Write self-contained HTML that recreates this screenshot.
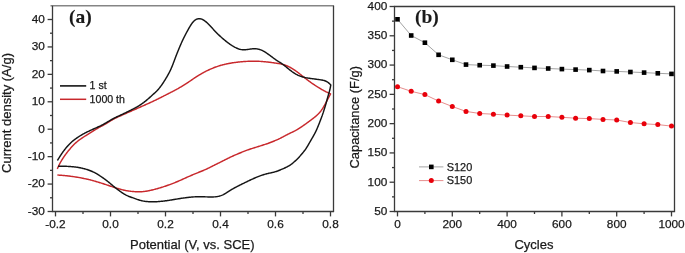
<!DOCTYPE html>
<html><head><meta charset="utf-8"><title>CV and cycling</title>
<style>html,body{margin:0;padding:0;background:#fff;}body{width:685px;height:253px;overflow:hidden;}svg{display:block;will-change:transform;filter:blur(0.3px);}text{font-family:"Liberation Sans",sans-serif;fill:#1a1a1a;stroke:#1a1a1a;stroke-width:0.25px;}</style>
</head><body>
<svg width="685" height="253" viewBox="0 0 685 253">
<rect width="685" height="253" fill="#fff"/>
<g fill="none" stroke="#3a3a3a" stroke-width="1.3">
<path d="M50.5,5.8 H334.1" stroke="#858585" stroke-width="1.6"/>
<path d="M333.5,5.8 V211.5"/>
<path d="M52.5,5.8 V211.5 H334.1"/>
<path d="M47.6,211.50 H52.5"/>
<path d="M50.0,197.78 H52.5"/>
<path d="M47.6,184.07 H52.5"/>
<path d="M50.0,170.35 H52.5"/>
<path d="M47.6,156.64 H52.5"/>
<path d="M50.0,142.93 H52.5"/>
<path d="M47.6,129.21 H52.5"/>
<path d="M50.0,115.50 H52.5"/>
<path d="M47.6,101.78 H52.5"/>
<path d="M50.0,88.07 H52.5"/>
<path d="M47.6,74.36 H52.5"/>
<path d="M50.0,60.64 H52.5"/>
<path d="M47.6,46.93 H52.5"/>
<path d="M50.0,33.21 H52.5"/>
<path d="M47.6,19.50 H52.5"/>
<path d="M55.50,211.5 V216.4"/>
<path d="M83.00,211.5 V214.0"/>
<path d="M110.50,211.5 V216.4"/>
<path d="M138.00,211.5 V214.0"/>
<path d="M165.50,211.5 V216.4"/>
<path d="M193.00,211.5 V214.0"/>
<path d="M220.50,211.5 V216.4"/>
<path d="M248.00,211.5 V214.0"/>
<path d="M275.50,211.5 V216.4"/>
<path d="M303.00,211.5 V214.0"/>
<path d="M330.50,211.5 V216.4"/>
</g>
<g font-size="11.8" text-anchor="end">
<text x="44.9" y="214.80">-30</text>
<text x="44.9" y="187.37">-20</text>
<text x="44.9" y="159.94">-10</text>
<text x="44.9" y="132.51">0</text>
<text x="44.9" y="105.08">10</text>
<text x="44.9" y="77.66">20</text>
<text x="44.9" y="50.23">30</text>
<text x="44.9" y="22.80">40</text>
</g>
<g font-size="11.8" text-anchor="middle">
<text x="55.50" y="228.3">-0.2</text>
<text x="110.50" y="228.3">0.0</text>
<text x="165.50" y="228.3">0.2</text>
<text x="220.50" y="228.3">0.4</text>
<text x="275.50" y="228.3">0.6</text>
<text x="330.50" y="228.3">0.8</text>
</g>
<text x="192.3" y="249" font-size="13" text-anchor="middle">Potential (V, vs. SCE)</text>
<text transform="translate(11.3,113) rotate(-90)" font-size="13" text-anchor="middle">Current density (A/g)</text>
<text x="68.9" y="22.5" font-size="19.5" font-weight="bold" style="font-family:'Liberation Serif',serif;stroke-width:0.1px" fill="#111">(a)</text>
<path d="M57.30,168.90 L57.58,168.26 L57.87,167.62 L58.15,166.98 L58.44,166.35 L58.74,165.71 L59.04,165.08 L59.35,164.46 L59.67,163.84 L60.00,163.22 L60.33,162.61 L60.67,162.00 L61.02,161.39 L61.38,160.79 L61.74,160.19 L62.10,159.59 L62.47,159.00 L62.85,158.41 L63.23,157.82 L63.61,157.24 L64.01,156.66 L64.40,156.09 L64.81,155.52 L65.21,154.95 L65.63,154.38 L66.05,153.82 L66.47,153.27 L66.89,152.71 L67.32,152.16 L67.76,151.61 L68.19,151.06 L68.63,150.52 L69.08,149.98 L69.53,149.44 L69.98,148.91 L70.44,148.38 L70.90,147.85 L71.36,147.33 L71.82,146.81 L72.29,146.29 L72.77,145.77 L73.25,145.26 L73.73,144.76 L74.22,144.27 L74.72,143.78 L75.23,143.30 L75.74,142.84 L76.27,142.38 L76.80,141.93 L77.34,141.49 L77.89,141.05 L78.44,140.62 L79.00,140.20 L79.56,139.78 L80.12,139.37 L80.69,138.97 L81.26,138.56 L81.84,138.17 L82.42,137.78 L83.01,137.40 L83.59,137.01 L84.18,136.64 L84.77,136.26 L85.37,135.89 L85.96,135.52 L86.55,135.15 L87.15,134.78 L87.74,134.41 L88.33,134.04 L88.93,133.67 L89.52,133.30 L90.12,132.93 L90.71,132.56 L91.30,132.19 L91.90,131.81 L92.49,131.44 L93.09,131.07 L93.68,130.70 L94.28,130.34 L94.87,129.97 L95.47,129.60 L96.06,129.23 L96.66,128.87 L97.26,128.51 L97.86,128.16 L98.47,127.81 L99.08,127.46 L99.69,127.12 L100.30,126.79 L100.91,126.46 L101.53,126.14 L102.15,125.81 L102.77,125.49 L103.38,125.16 L103.99,124.83 L104.60,124.49 L105.21,124.14 L105.81,123.79 L106.41,123.43 L107.01,123.06 L107.60,122.70 L108.20,122.33 L108.79,121.96 L109.39,121.59 L109.98,121.22 L110.58,120.86 L111.18,120.49 L111.78,120.14 L112.38,119.78 L112.99,119.44 L113.60,119.10 L114.22,118.77 L114.84,118.45 L115.46,118.14 L116.09,117.83 L116.72,117.53 L117.35,117.24 L117.99,116.94 L118.62,116.65 L119.26,116.37 L119.90,116.08 L120.54,115.79 L121.18,115.51 L121.82,115.22 L122.46,114.94 L123.10,114.65 L123.74,114.37 L124.38,114.08 L125.02,113.80 L125.66,113.52 L126.30,113.23 L126.94,112.95 L127.58,112.67 L128.22,112.38 L128.86,112.10 L129.50,111.82 L130.14,111.54 L130.78,111.26 L131.42,110.98 L132.07,110.70 L132.71,110.42 L133.35,110.14 L133.99,109.86 L134.63,109.58 L135.27,109.29 L135.91,109.01 L136.55,108.73 L137.19,108.44 L137.83,108.16 L138.47,107.88 L139.11,107.59 L139.75,107.31 L140.39,107.02 L141.03,106.74 L141.67,106.45 L142.31,106.17 L142.95,105.88 L143.58,105.59 L144.22,105.31 L144.86,105.02 L145.50,104.74 L146.14,104.45 L146.78,104.16 L147.42,103.87 L148.05,103.58 L148.69,103.30 L149.33,103.01 L149.97,102.72 L150.60,102.43 L151.24,102.14 L151.88,101.85 L152.51,101.55 L153.15,101.26 L153.78,100.96 L154.41,100.66 L155.05,100.36 L155.68,100.06 L156.31,99.75 L156.93,99.44 L157.56,99.13 L158.19,98.82 L158.81,98.50 L159.44,98.19 L160.06,97.87 L160.69,97.56 L161.31,97.24 L161.94,96.92 L162.56,96.61 L163.18,96.29 L163.81,95.97 L164.43,95.66 L165.06,95.34 L165.68,95.03 L166.31,94.71 L166.93,94.39 L167.55,94.07 L168.18,93.76 L168.80,93.44 L169.43,93.12 L170.05,92.80 L170.67,92.48 L171.29,92.16 L171.92,91.84 L172.54,91.52 L173.16,91.19 L173.78,90.87 L174.40,90.55 L175.02,90.22 L175.64,89.89 L176.25,89.56 L176.87,89.22 L177.48,88.89 L178.09,88.54 L178.70,88.20 L179.30,87.85 L179.91,87.49 L180.51,87.14 L181.11,86.78 L181.71,86.42 L182.31,86.06 L182.91,85.69 L183.50,85.33 L184.10,84.96 L184.69,84.59 L185.29,84.22 L185.88,83.84 L186.46,83.46 L187.05,83.08 L187.63,82.70 L188.22,82.31 L188.80,81.92 L189.37,81.52 L189.95,81.13 L190.53,80.73 L191.10,80.33 L191.68,79.93 L192.26,79.54 L192.83,79.14 L193.41,78.75 L193.99,78.36 L194.57,77.97 L195.16,77.58 L195.74,77.20 L196.33,76.82 L196.92,76.45 L197.52,76.08 L198.11,75.71 L198.71,75.34 L199.31,74.98 L199.91,74.62 L200.51,74.26 L201.11,73.90 L201.71,73.55 L202.32,73.20 L202.93,72.85 L203.54,72.51 L204.15,72.18 L204.77,71.85 L205.39,71.53 L206.02,71.22 L206.64,70.91 L207.27,70.61 L207.90,70.31 L208.54,70.01 L209.17,69.72 L209.81,69.43 L210.45,69.14 L211.09,68.86 L211.73,68.58 L212.38,68.31 L213.02,68.05 L213.67,67.79 L214.33,67.54 L214.98,67.29 L215.64,67.05 L216.30,66.82 L216.96,66.59 L217.62,66.36 L218.28,66.14 L218.95,65.92 L219.61,65.71 L220.28,65.51 L220.95,65.31 L221.62,65.11 L222.30,64.93 L222.97,64.75 L223.65,64.58 L224.33,64.42 L225.01,64.27 L225.69,64.12 L226.38,63.97 L227.06,63.83 L227.75,63.69 L228.44,63.56 L229.12,63.43 L229.81,63.30 L230.50,63.18 L231.19,63.06 L231.88,62.95 L232.57,62.84 L233.26,62.74 L233.96,62.63 L234.65,62.53 L235.34,62.44 L236.04,62.35 L236.73,62.26 L237.42,62.17 L238.12,62.09 L238.81,62.01 L239.51,61.93 L240.21,61.86 L240.90,61.79 L241.60,61.73 L242.30,61.67 L242.99,61.62 L243.69,61.57 L244.39,61.52 L245.09,61.48 L245.79,61.44 L246.49,61.40 L247.19,61.37 L247.89,61.34 L248.58,61.31 L249.28,61.28 L249.98,61.26 L250.68,61.23 L251.38,61.22 L252.08,61.20 L252.78,61.19 L253.48,61.19 L254.18,61.19 L254.88,61.20 L255.58,61.21 L256.28,61.22 L256.98,61.24 L257.68,61.27 L258.38,61.30 L259.08,61.33 L259.77,61.36 L260.47,61.40 L261.17,61.45 L261.87,61.49 L262.57,61.55 L263.26,61.60 L263.96,61.66 L264.66,61.73 L265.36,61.79 L266.05,61.86 L266.75,61.94 L267.44,62.01 L268.14,62.09 L268.83,62.17 L269.53,62.26 L270.22,62.34 L270.92,62.43 L271.61,62.52 L272.30,62.62 L273.00,62.71 L273.69,62.81 L274.38,62.91 L275.08,63.01 L275.77,63.11 L276.46,63.21 L277.15,63.31 L277.85,63.42 L278.53,63.53 L279.22,63.65 L279.91,63.78 L280.59,63.91 L281.27,64.06 L281.95,64.22 L282.62,64.40 L283.29,64.59 L283.96,64.79 L284.62,65.00 L285.28,65.23 L285.93,65.47 L286.58,65.72 L287.23,65.99 L287.87,66.26 L288.50,66.55 L289.13,66.85 L289.75,67.17 L290.36,67.50 L290.97,67.84 L291.57,68.19 L292.17,68.55 L292.76,68.91 L293.35,69.29 L293.94,69.67 L294.52,70.06 L295.10,70.45 L295.68,70.84 L296.25,71.25 L296.81,71.66 L297.38,72.07 L297.93,72.49 L298.49,72.92 L299.04,73.35 L299.59,73.78 L300.14,74.21 L300.69,74.65 L301.24,75.08 L301.79,75.52 L302.34,75.95 L302.88,76.39 L303.43,76.82 L303.98,77.25 L304.53,77.69 L305.09,78.12 L305.64,78.55 L306.19,78.98 L306.74,79.41 L307.30,79.83 L307.86,80.26 L308.41,80.68 L308.97,81.10 L309.53,81.52 L310.10,81.93 L310.67,82.34 L311.24,82.74 L311.81,83.15 L312.39,83.54 L312.96,83.94 L313.54,84.33 L314.13,84.72 L314.71,85.10 L315.29,85.49 L315.88,85.87 L316.47,86.25 L317.06,86.63 L317.65,87.00 L318.24,87.37 L318.84,87.74 L319.44,88.10 L320.04,88.46 L320.64,88.82 L321.24,89.17 L321.85,89.53 L322.45,89.87 L323.06,90.21 L323.68,90.55 L324.29,90.88 L324.91,91.21 L325.53,91.52 L326.16,91.84 L326.79,92.14 L327.42,92.44 L328.05,92.74 L328.69,93.03 L329.33,93.32 L329.96,93.61 L330.60,93.90 L330.26,94.51 L329.93,95.13 L329.59,95.74 L329.26,96.36 L328.92,96.97 L328.59,97.59 L328.27,98.21 L327.94,98.83 L327.62,99.45 L327.29,100.07 L326.97,100.69 L326.65,101.31 L326.32,101.93 L326.00,102.55 L325.67,103.17 L325.34,103.79 L325.01,104.40 L324.67,105.02 L324.33,105.63 L323.99,106.23 L323.64,106.84 L323.28,107.44 L322.91,108.03 L322.53,108.62 L322.15,109.20 L321.75,109.77 L321.35,110.34 L320.93,110.90 L320.51,111.45 L320.07,111.99 L319.62,112.52 L319.16,113.04 L318.68,113.55 L318.20,114.05 L317.70,114.53 L317.19,115.01 L316.67,115.48 L316.15,115.94 L315.62,116.39 L315.08,116.84 L314.54,117.28 L313.99,117.72 L313.44,118.15 L312.89,118.58 L312.34,119.01 L311.78,119.43 L311.22,119.86 L310.66,120.28 L310.10,120.70 L309.54,121.12 L308.98,121.53 L308.42,121.95 L307.85,122.36 L307.28,122.77 L306.72,123.18 L306.15,123.59 L305.58,123.99 L305.01,124.40 L304.44,124.80 L303.86,125.21 L303.29,125.61 L302.71,126.00 L302.14,126.40 L301.56,126.79 L300.98,127.18 L300.39,127.57 L299.80,127.95 L299.21,128.32 L298.62,128.69 L298.02,129.05 L297.42,129.41 L296.82,129.76 L296.21,130.11 L295.60,130.44 L294.98,130.77 L294.36,131.10 L293.74,131.41 L293.11,131.73 L292.48,132.04 L291.86,132.34 L291.22,132.64 L290.59,132.95 L289.96,133.25 L289.33,133.55 L288.71,133.86 L288.08,134.17 L287.45,134.49 L286.83,134.81 L286.21,135.13 L285.59,135.46 L284.98,135.78 L284.36,136.12 L283.74,136.45 L283.13,136.78 L282.51,137.11 L281.89,137.44 L281.27,137.76 L280.65,138.08 L280.03,138.40 L279.40,138.70 L278.77,139.01 L278.13,139.30 L277.50,139.59 L276.86,139.87 L276.22,140.15 L275.57,140.43 L274.93,140.70 L274.28,140.97 L273.64,141.24 L272.99,141.50 L272.34,141.76 L271.69,142.02 L271.04,142.28 L270.39,142.53 L269.73,142.78 L269.08,143.02 L268.42,143.25 L267.76,143.49 L267.10,143.71 L266.43,143.94 L265.77,144.16 L265.11,144.38 L264.44,144.60 L263.77,144.81 L263.11,145.03 L262.44,145.24 L261.78,145.46 L261.11,145.67 L260.44,145.88 L259.77,146.09 L259.11,146.30 L258.44,146.51 L257.77,146.72 L257.10,146.92 L256.43,147.13 L255.76,147.33 L255.09,147.54 L254.42,147.74 L253.75,147.95 L253.09,148.16 L252.42,148.37 L251.75,148.58 L251.09,148.80 L250.42,149.02 L249.76,149.24 L249.10,149.47 L248.44,149.70 L247.78,149.94 L247.13,150.18 L246.47,150.43 L245.82,150.68 L245.16,150.93 L244.51,151.18 L243.86,151.43 L243.20,151.69 L242.55,151.94 L241.90,152.20 L241.25,152.46 L240.60,152.72 L239.96,152.99 L239.31,153.25 L238.66,153.52 L238.02,153.79 L237.37,154.07 L236.73,154.34 L236.09,154.62 L235.44,154.90 L234.80,155.18 L234.16,155.46 L233.52,155.74 L232.88,156.02 L232.24,156.31 L231.60,156.60 L230.97,156.89 L230.34,157.19 L229.70,157.49 L229.07,157.79 L228.45,158.10 L227.82,158.42 L227.20,158.73 L226.57,159.05 L225.95,159.37 L225.33,159.69 L224.70,160.01 L224.08,160.32 L223.46,160.64 L222.83,160.96 L222.21,161.27 L221.58,161.59 L220.96,161.90 L220.33,162.21 L219.70,162.53 L219.08,162.84 L218.45,163.15 L217.82,163.46 L217.19,163.77 L216.57,164.08 L215.94,164.39 L215.31,164.71 L214.69,165.02 L214.06,165.33 L213.44,165.64 L212.81,165.96 L212.19,166.27 L211.56,166.59 L210.93,166.90 L210.31,167.22 L209.68,167.53 L209.06,167.84 L208.43,168.15 L207.80,168.45 L207.17,168.75 L206.53,169.05 L205.90,169.34 L205.26,169.63 L204.62,169.91 L203.98,170.19 L203.33,170.46 L202.69,170.72 L202.04,170.99 L201.39,171.25 L200.74,171.51 L200.09,171.77 L199.44,172.03 L198.79,172.29 L198.14,172.55 L197.49,172.81 L196.84,173.08 L196.20,173.34 L195.55,173.61 L194.90,173.88 L194.26,174.15 L193.61,174.42 L192.97,174.70 L192.32,174.97 L191.68,175.25 L191.04,175.52 L190.39,175.80 L189.75,176.08 L189.11,176.36 L188.47,176.64 L187.83,176.92 L187.19,177.21 L186.55,177.50 L185.91,177.78 L185.28,178.07 L184.64,178.36 L184.00,178.65 L183.36,178.94 L182.73,179.23 L182.09,179.52 L181.45,179.80 L180.81,180.09 L180.17,180.37 L179.53,180.65 L178.89,180.93 L178.24,181.21 L177.60,181.48 L176.96,181.76 L176.31,182.03 L175.66,182.29 L175.02,182.56 L174.37,182.82 L173.72,183.08 L173.06,183.33 L172.41,183.58 L171.76,183.83 L171.10,184.08 L170.45,184.33 L169.79,184.57 L169.14,184.81 L168.48,185.05 L167.82,185.29 L167.16,185.52 L166.50,185.75 L165.84,185.98 L165.17,186.21 L164.51,186.43 L163.85,186.65 L163.18,186.87 L162.52,187.09 L161.85,187.30 L161.18,187.51 L160.51,187.72 L159.84,187.92 L159.17,188.12 L158.50,188.31 L157.83,188.50 L157.15,188.69 L156.48,188.88 L155.80,189.06 L155.13,189.24 L154.45,189.42 L153.77,189.59 L153.09,189.76 L152.41,189.92 L151.73,190.08 L151.05,190.24 L150.37,190.39 L149.68,190.54 L149.00,190.68 L148.31,190.82 L147.63,190.94 L146.94,191.06 L146.25,191.18 L145.56,191.28 L144.86,191.37 L144.17,191.46 L143.48,191.54 L142.78,191.61 L142.09,191.66 L141.39,191.71 L140.69,191.75 L139.99,191.77 L139.30,191.79 L138.60,191.79 L137.90,191.79 L137.20,191.78 L136.50,191.75 L135.81,191.72 L135.11,191.68 L134.41,191.63 L133.71,191.58 L133.02,191.52 L132.32,191.45 L131.63,191.37 L130.93,191.30 L130.24,191.21 L129.54,191.12 L128.85,191.03 L128.16,190.93 L127.47,190.83 L126.78,190.71 L126.09,190.59 L125.40,190.46 L124.72,190.32 L124.04,190.17 L123.36,190.01 L122.68,189.85 L122.00,189.67 L121.32,189.50 L120.65,189.31 L119.98,189.12 L119.31,188.93 L118.63,188.73 L117.96,188.53 L117.30,188.32 L116.63,188.11 L115.96,187.90 L115.29,187.69 L114.62,187.48 L113.96,187.27 L113.29,187.05 L112.63,186.84 L111.96,186.62 L111.29,186.41 L110.63,186.19 L109.96,185.97 L109.30,185.75 L108.63,185.53 L107.97,185.31 L107.31,185.09 L106.64,184.87 L105.98,184.64 L105.31,184.42 L104.65,184.20 L103.99,183.98 L103.32,183.76 L102.66,183.55 L101.99,183.33 L101.32,183.12 L100.65,182.91 L99.99,182.70 L99.32,182.49 L98.65,182.29 L97.98,182.09 L97.31,181.89 L96.63,181.69 L95.96,181.50 L95.29,181.30 L94.62,181.11 L93.95,180.91 L93.27,180.72 L92.60,180.54 L91.92,180.35 L91.25,180.17 L90.57,179.99 L89.89,179.82 L89.21,179.65 L88.53,179.49 L87.85,179.33 L87.17,179.18 L86.49,179.03 L85.80,178.88 L85.12,178.74 L84.43,178.59 L83.75,178.45 L83.06,178.31 L82.38,178.17 L81.69,178.03 L81.00,177.90 L80.31,177.77 L79.63,177.64 L78.94,177.52 L78.25,177.40 L77.56,177.28 L76.87,177.17 L76.18,177.06 L75.49,176.95 L74.79,176.85 L74.10,176.74 L73.41,176.64 L72.72,176.54 L72.02,176.44 L71.33,176.35 L70.64,176.25 L69.94,176.16 L69.25,176.07 L68.55,175.99 L67.86,175.91 L67.16,175.83 L66.47,175.76 L65.77,175.69 L65.07,175.62 L64.38,175.56 L63.68,175.50 L62.98,175.44 L62.28,175.39 L61.59,175.33 L60.89,175.27 L60.19,175.22 L59.49,175.16 L58.80,175.11 L58.10,175.05 L57.40,175.00" fill="none" stroke="#c8282c" stroke-width="1.45" stroke-linejoin="round"/>
<path d="M57.40,160.50 L57.77,159.90 L58.13,159.31 L58.50,158.71 L58.87,158.11 L59.24,157.52 L59.61,156.92 L59.99,156.33 L60.37,155.74 L60.75,155.15 L61.13,154.57 L61.52,153.99 L61.92,153.41 L62.32,152.83 L62.72,152.26 L63.13,151.69 L63.54,151.13 L63.96,150.57 L64.38,150.01 L64.81,149.45 L65.24,148.90 L65.67,148.35 L66.11,147.80 L66.56,147.27 L67.01,146.73 L67.47,146.20 L67.94,145.68 L68.41,145.17 L68.89,144.66 L69.37,144.16 L69.87,143.66 L70.37,143.17 L70.88,142.69 L71.39,142.22 L71.91,141.76 L72.44,141.30 L72.98,140.86 L73.53,140.42 L74.08,139.99 L74.63,139.56 L75.20,139.15 L75.76,138.73 L76.33,138.33 L76.90,137.92 L77.48,137.53 L78.06,137.14 L78.65,136.75 L79.24,136.38 L79.83,136.00 L80.43,135.64 L81.03,135.28 L81.63,134.92 L82.23,134.57 L82.84,134.22 L83.45,133.88 L84.07,133.55 L84.69,133.22 L85.31,132.89 L85.93,132.57 L86.56,132.26 L87.18,131.95 L87.81,131.64 L88.45,131.34 L89.08,131.04 L89.71,130.74 L90.35,130.44 L90.98,130.15 L91.62,129.86 L92.26,129.57 L92.90,129.28 L93.54,128.99 L94.18,128.70 L94.82,128.42 L95.46,128.13 L96.10,127.85 L96.74,127.56 L97.38,127.28 L98.02,126.99 L98.65,126.70 L99.29,126.41 L99.92,126.11 L100.56,125.81 L101.18,125.50 L101.81,125.18 L102.43,124.86 L103.04,124.53 L103.66,124.19 L104.27,123.85 L104.88,123.50 L105.48,123.15 L106.09,122.79 L106.69,122.44 L107.29,122.08 L107.90,121.72 L108.50,121.37 L109.10,121.01 L109.70,120.65 L110.31,120.30 L110.92,119.95 L111.52,119.60 L112.13,119.25 L112.75,118.92 L113.36,118.58 L113.98,118.26 L114.60,117.94 L115.23,117.63 L115.86,117.32 L116.49,117.02 L117.12,116.72 L117.76,116.42 L118.40,116.13 L119.03,115.84 L119.67,115.54 L120.31,115.25 L120.94,114.95 L121.58,114.66 L122.21,114.36 L122.85,114.06 L123.48,113.76 L124.11,113.46 L124.74,113.15 L125.37,112.85 L126.00,112.54 L126.63,112.23 L127.26,111.93 L127.89,111.62 L128.52,111.31 L129.15,110.99 L129.77,110.68 L130.40,110.37 L131.03,110.05 L131.65,109.73 L132.28,109.42 L132.90,109.10 L133.52,108.77 L134.14,108.45 L134.76,108.12 L135.38,107.79 L136.00,107.46 L136.61,107.12 L137.22,106.78 L137.83,106.43 L138.43,106.07 L139.02,105.71 L139.61,105.33 L140.20,104.95 L140.78,104.56 L141.36,104.17 L141.93,103.77 L142.51,103.36 L143.07,102.95 L143.64,102.54 L144.19,102.12 L144.75,101.69 L145.30,101.26 L145.84,100.82 L146.38,100.37 L146.92,99.92 L147.45,99.47 L147.98,99.01 L148.50,98.54 L149.03,98.08 L149.55,97.61 L150.07,97.14 L150.59,96.68 L151.12,96.21 L151.64,95.74 L152.16,95.27 L152.68,94.80 L153.20,94.33 L153.72,93.86 L154.24,93.39 L154.75,92.92 L155.26,92.44 L155.77,91.96 L156.27,91.47 L156.77,90.98 L157.25,90.48 L157.73,89.97 L158.20,89.45 L158.66,88.92 L159.11,88.39 L159.55,87.85 L159.98,87.30 L160.41,86.74 L160.83,86.18 L161.24,85.62 L161.64,85.05 L162.05,84.47 L162.44,83.90 L162.83,83.31 L163.22,82.73 L163.60,82.14 L163.98,81.55 L164.35,80.96 L164.73,80.37 L165.10,79.77 L165.46,79.18 L165.83,78.58 L166.19,77.98 L166.55,77.37 L166.90,76.77 L167.25,76.16 L167.60,75.56 L167.94,74.95 L168.28,74.33 L168.62,73.72 L168.94,73.10 L169.27,72.48 L169.59,71.85 L169.90,71.23 L170.21,70.60 L170.51,69.96 L170.80,69.33 L171.09,68.69 L171.37,68.05 L171.65,67.41 L171.92,66.76 L172.19,66.11 L172.45,65.46 L172.70,64.81 L172.96,64.16 L173.21,63.50 L173.46,62.85 L173.70,62.19 L173.95,61.54 L174.19,60.88 L174.44,60.22 L174.68,59.57 L174.93,58.91 L175.18,58.25 L175.42,57.60 L175.67,56.94 L175.92,56.29 L176.18,55.63 L176.43,54.98 L176.69,54.33 L176.94,53.68 L177.20,53.02 L177.46,52.37 L177.72,51.72 L177.99,51.07 L178.25,50.42 L178.52,49.78 L178.78,49.13 L179.05,48.48 L179.32,47.83 L179.59,47.19 L179.87,46.54 L180.14,45.90 L180.42,45.25 L180.69,44.61 L180.97,43.97 L181.26,43.32 L181.54,42.68 L181.83,42.04 L182.12,41.41 L182.41,40.77 L182.70,40.13 L183.00,39.50 L183.31,38.87 L183.61,38.24 L183.92,37.61 L184.23,36.98 L184.55,36.36 L184.87,35.73 L185.19,35.11 L185.51,34.49 L185.84,33.87 L186.17,33.25 L186.50,32.63 L186.83,32.01 L187.16,31.40 L187.50,30.78 L187.84,30.17 L188.18,29.55 L188.52,28.94 L188.86,28.33 L189.21,27.72 L189.56,27.12 L189.92,26.52 L190.28,25.92 L190.65,25.33 L191.03,24.74 L191.42,24.16 L191.82,23.59 L192.22,23.03 L192.65,22.48 L193.08,21.96 L193.54,21.45 L194.02,20.98 L194.51,20.53 L195.03,20.13 L195.58,19.76 L196.14,19.45 L196.73,19.19 L197.33,18.98 L197.95,18.83 L198.58,18.74 L199.22,18.71 L199.85,18.75 L200.49,18.84 L201.12,18.98 L201.74,19.18 L202.35,19.43 L202.95,19.73 L203.54,20.06 L204.11,20.42 L204.67,20.82 L205.22,21.23 L205.76,21.67 L206.28,22.12 L206.80,22.58 L207.31,23.06 L207.82,23.54 L208.32,24.03 L208.81,24.53 L209.30,25.03 L209.79,25.53 L210.27,26.04 L210.75,26.55 L211.23,27.06 L211.70,27.58 L212.18,28.09 L212.65,28.61 L213.13,29.13 L213.60,29.64 L214.08,30.15 L214.56,30.66 L215.04,31.17 L215.53,31.68 L216.02,32.18 L216.51,32.68 L217.00,33.18 L217.49,33.67 L217.99,34.17 L218.49,34.66 L219.00,35.14 L219.50,35.63 L220.01,36.11 L220.53,36.58 L221.04,37.06 L221.57,37.52 L222.09,37.99 L222.62,38.45 L223.15,38.90 L223.69,39.36 L224.22,39.81 L224.76,40.25 L225.31,40.69 L225.85,41.13 L226.40,41.57 L226.95,42.00 L227.51,42.42 L228.07,42.84 L228.63,43.26 L229.20,43.67 L229.77,44.08 L230.34,44.48 L230.92,44.87 L231.50,45.26 L232.09,45.64 L232.69,46.00 L233.29,46.36 L233.89,46.71 L234.51,47.04 L235.12,47.36 L235.75,47.67 L236.38,47.97 L237.02,48.25 L237.66,48.52 L238.31,48.77 L238.96,49.00 L239.62,49.20 L240.28,49.38 L240.95,49.53 L241.62,49.65 L242.30,49.73 L242.98,49.79 L243.66,49.81 L244.35,49.80 L245.03,49.77 L245.72,49.71 L246.41,49.64 L247.10,49.55 L247.79,49.45 L248.48,49.35 L249.17,49.25 L249.86,49.15 L250.56,49.06 L251.25,48.97 L251.94,48.90 L252.63,48.84 L253.33,48.79 L254.02,48.76 L254.71,48.76 L255.40,48.78 L256.09,48.82 L256.77,48.89 L257.46,48.98 L258.13,49.11 L258.80,49.26 L259.47,49.44 L260.12,49.65 L260.77,49.88 L261.41,50.14 L262.05,50.42 L262.67,50.72 L263.29,51.03 L263.90,51.37 L264.50,51.72 L265.09,52.08 L265.68,52.46 L266.26,52.84 L266.84,53.23 L267.42,53.63 L267.99,54.04 L268.56,54.45 L269.12,54.86 L269.69,55.28 L270.25,55.69 L270.81,56.11 L271.37,56.53 L271.94,56.95 L272.50,57.37 L273.06,57.79 L273.62,58.21 L274.18,58.62 L274.75,59.04 L275.32,59.45 L275.89,59.85 L276.46,60.24 L277.05,60.63 L277.63,61.01 L278.22,61.38 L278.82,61.75 L279.41,62.11 L280.00,62.48 L280.60,62.85 L281.18,63.22 L281.76,63.60 L282.34,64.00 L282.90,64.40 L283.46,64.82 L284.02,65.24 L284.56,65.68 L285.11,66.12 L285.65,66.56 L286.19,67.01 L286.72,67.46 L287.26,67.90 L287.80,68.35 L288.35,68.79 L288.89,69.23 L289.44,69.66 L290.00,70.09 L290.55,70.52 L291.11,70.94 L291.68,71.35 L292.24,71.77 L292.81,72.17 L293.39,72.57 L293.97,72.96 L294.55,73.34 L295.14,73.71 L295.74,74.06 L296.34,74.40 L296.96,74.72 L297.58,75.03 L298.21,75.32 L298.85,75.59 L299.50,75.85 L300.15,76.10 L300.81,76.34 L301.47,76.56 L302.13,76.77 L302.80,76.97 L303.47,77.15 L304.15,77.32 L304.83,77.48 L305.51,77.62 L306.20,77.76 L306.88,77.88 L307.57,78.00 L308.26,78.12 L308.96,78.22 L309.65,78.33 L310.34,78.43 L311.04,78.53 L311.73,78.62 L312.43,78.72 L313.12,78.81 L313.81,78.90 L314.51,78.99 L315.20,79.09 L315.90,79.18 L316.59,79.27 L317.29,79.36 L317.98,79.45 L318.68,79.55 L319.37,79.64 L320.06,79.74 L320.76,79.85 L321.44,79.96 L322.13,80.08 L322.81,80.22 L323.48,80.37 L324.14,80.55 L324.79,80.75 L325.42,80.99 L326.04,81.25 L326.65,81.56 L327.23,81.89 L327.79,82.26 L328.34,82.66 L328.86,83.09 L329.36,83.54 L329.85,84.02 L330.33,84.51 L330.80,85.00 L330.67,85.69 L330.54,86.37 L330.41,87.06 L330.27,87.75 L330.13,88.43 L329.98,89.11 L329.82,89.79 L329.65,90.47 L329.47,91.15 L329.29,91.82 L329.10,92.49 L328.90,93.16 L328.70,93.83 L328.50,94.50 L328.30,95.17 L328.11,95.84 L327.91,96.51 L327.72,97.19 L327.53,97.86 L327.35,98.54 L327.17,99.21 L326.99,99.89 L326.81,100.57 L326.64,101.24 L326.46,101.92 L326.27,102.59 L326.09,103.27 L325.89,103.94 L325.70,104.61 L325.50,105.28 L325.30,105.96 L325.10,106.63 L324.89,107.29 L324.69,107.96 L324.48,108.63 L324.27,109.30 L324.06,109.97 L323.85,110.63 L323.64,111.30 L323.42,111.97 L323.21,112.63 L322.98,113.30 L322.76,113.96 L322.53,114.62 L322.29,115.28 L322.06,115.94 L321.81,116.59 L321.57,117.25 L321.33,117.90 L321.08,118.56 L320.83,119.21 L320.58,119.87 L320.33,120.52 L320.08,121.18 L319.83,121.83 L319.58,122.48 L319.33,123.14 L319.07,123.79 L318.82,124.44 L318.56,125.09 L318.30,125.74 L318.03,126.39 L317.76,127.03 L317.49,127.68 L317.22,128.32 L316.94,128.97 L316.66,129.60 L316.37,130.24 L316.08,130.88 L315.78,131.51 L315.47,132.13 L315.15,132.76 L314.83,133.38 L314.50,133.99 L314.17,134.61 L313.83,135.22 L313.48,135.83 L313.14,136.44 L312.79,137.04 L312.44,137.65 L312.09,138.25 L311.74,138.86 L311.39,139.47 L311.03,140.07 L310.68,140.68 L310.33,141.28 L309.99,141.89 L309.64,142.50 L309.29,143.10 L308.94,143.71 L308.59,144.32 L308.24,144.92 L307.89,145.53 L307.54,146.13 L307.18,146.73 L306.81,147.32 L306.43,147.91 L306.05,148.50 L305.66,149.07 L305.26,149.64 L304.85,150.21 L304.43,150.76 L304.00,151.31 L303.57,151.86 L303.13,152.41 L302.68,152.95 L302.24,153.49 L301.79,154.02 L301.33,154.56 L300.88,155.09 L300.42,155.62 L299.96,156.14 L299.50,156.66 L299.03,157.18 L298.55,157.69 L298.07,158.20 L297.58,158.70 L297.09,159.19 L296.59,159.68 L296.08,160.16 L295.57,160.64 L295.06,161.11 L294.54,161.58 L294.01,162.04 L293.49,162.50 L292.95,162.95 L292.41,163.39 L291.87,163.82 L291.31,164.24 L290.75,164.65 L290.17,165.04 L289.59,165.42 L289.00,165.78 L288.40,166.13 L287.79,166.47 L287.17,166.80 L286.55,167.12 L285.93,167.43 L285.30,167.73 L284.66,168.03 L284.03,168.32 L283.39,168.60 L282.75,168.88 L282.10,169.16 L281.46,169.43 L280.82,169.70 L280.17,169.97 L279.52,170.23 L278.87,170.49 L278.22,170.74 L277.57,170.99 L276.91,171.22 L276.25,171.44 L275.59,171.65 L274.92,171.85 L274.25,172.03 L273.57,172.21 L272.89,172.37 L272.21,172.53 L271.53,172.69 L270.85,172.84 L270.17,172.99 L269.48,173.14 L268.80,173.30 L268.12,173.45 L267.44,173.62 L266.76,173.79 L266.08,173.96 L265.41,174.14 L264.74,174.33 L264.07,174.53 L263.40,174.73 L262.73,174.94 L262.06,175.16 L261.40,175.38 L260.74,175.61 L260.08,175.85 L259.43,176.09 L258.78,176.34 L258.13,176.60 L257.48,176.86 L256.83,177.13 L256.19,177.40 L255.55,177.68 L254.90,177.96 L254.26,178.24 L253.62,178.52 L252.98,178.81 L252.35,179.10 L251.71,179.38 L251.07,179.68 L250.44,179.97 L249.80,180.27 L249.17,180.56 L248.54,180.87 L247.91,181.17 L247.28,181.48 L246.65,181.78 L246.02,182.09 L245.40,182.41 L244.77,182.72 L244.14,183.03 L243.51,183.34 L242.89,183.65 L242.26,183.96 L241.63,184.27 L241.01,184.59 L240.38,184.90 L239.75,185.21 L239.13,185.52 L238.50,185.83 L237.87,186.15 L237.25,186.46 L236.63,186.78 L236.00,187.10 L235.39,187.43 L234.77,187.76 L234.15,188.09 L233.54,188.43 L232.94,188.78 L232.33,189.13 L231.73,189.48 L231.13,189.84 L230.53,190.21 L229.94,190.58 L229.35,190.95 L228.76,191.33 L228.17,191.70 L227.58,192.08 L226.99,192.46 L226.41,192.84 L225.81,193.21 L225.22,193.57 L224.62,193.92 L224.02,194.26 L223.40,194.58 L222.78,194.88 L222.15,195.16 L221.51,195.42 L220.86,195.66 L220.20,195.87 L219.54,196.06 L218.87,196.23 L218.19,196.38 L217.51,196.51 L216.83,196.62 L216.14,196.71 L215.45,196.79 L214.75,196.85 L214.06,196.90 L213.36,196.93 L212.67,196.96 L211.97,196.97 L211.27,196.98 L210.57,196.98 L209.87,196.97 L209.17,196.96 L208.47,196.94 L207.77,196.92 L207.07,196.90 L206.37,196.88 L205.67,196.86 L204.97,196.84 L204.27,196.82 L203.57,196.80 L202.87,196.78 L202.17,196.77 L201.48,196.75 L200.78,196.74 L200.08,196.73 L199.38,196.73 L198.68,196.73 L197.98,196.73 L197.28,196.74 L196.58,196.76 L195.88,196.78 L195.18,196.81 L194.48,196.85 L193.78,196.89 L193.09,196.94 L192.39,197.00 L191.69,197.06 L191.00,197.12 L190.30,197.19 L189.60,197.26 L188.91,197.34 L188.21,197.42 L187.52,197.50 L186.82,197.58 L186.13,197.67 L185.43,197.76 L184.74,197.85 L184.05,197.94 L183.35,198.04 L182.66,198.14 L181.97,198.24 L181.28,198.34 L180.58,198.45 L179.89,198.55 L179.20,198.66 L178.51,198.77 L177.82,198.89 L177.13,199.00 L176.44,199.11 L175.75,199.23 L175.06,199.34 L174.37,199.46 L173.67,199.58 L172.98,199.69 L172.29,199.81 L171.60,199.92 L170.91,200.03 L170.22,200.14 L169.53,200.25 L168.84,200.36 L168.15,200.46 L167.45,200.56 L166.76,200.66 L166.07,200.75 L165.37,200.84 L164.68,200.93 L163.98,201.02 L163.29,201.10 L162.59,201.18 L161.90,201.25 L161.20,201.32 L160.50,201.39 L159.81,201.45 L159.11,201.51 L158.41,201.56 L157.71,201.61 L157.02,201.66 L156.32,201.70 L155.62,201.73 L154.92,201.76 L154.22,201.78 L153.52,201.79 L152.82,201.80 L152.13,201.79 L151.43,201.79 L150.73,201.77 L150.03,201.75 L149.33,201.72 L148.63,201.68 L147.94,201.64 L147.24,201.58 L146.54,201.52 L145.85,201.44 L145.16,201.36 L144.47,201.26 L143.78,201.15 L143.09,201.03 L142.41,200.89 L141.73,200.74 L141.05,200.58 L140.38,200.40 L139.71,200.21 L139.04,200.01 L138.38,199.80 L137.72,199.58 L137.06,199.35 L136.40,199.11 L135.74,198.88 L135.08,198.64 L134.42,198.40 L133.76,198.16 L133.11,197.93 L132.45,197.69 L131.79,197.45 L131.13,197.21 L130.48,196.96 L129.83,196.72 L129.17,196.47 L128.53,196.21 L127.88,195.94 L127.25,195.66 L126.62,195.36 L126.00,195.06 L125.38,194.73 L124.78,194.39 L124.18,194.04 L123.58,193.68 L123.00,193.30 L122.41,192.92 L121.83,192.53 L121.26,192.13 L120.68,191.73 L120.11,191.33 L119.54,190.92 L118.98,190.51 L118.41,190.10 L117.85,189.68 L117.29,189.26 L116.73,188.84 L116.18,188.41 L115.63,187.98 L115.08,187.54 L114.54,187.10 L114.00,186.66 L113.46,186.21 L112.92,185.76 L112.39,185.31 L111.86,184.86 L111.32,184.40 L110.79,183.95 L110.26,183.50 L109.72,183.05 L109.18,182.61 L108.64,182.17 L108.09,181.73 L107.54,181.29 L106.99,180.87 L106.43,180.44 L105.88,180.02 L105.32,179.60 L104.75,179.18 L104.19,178.77 L103.62,178.36 L103.05,177.95 L102.48,177.55 L101.90,177.15 L101.32,176.76 L100.74,176.37 L100.16,175.98 L99.58,175.60 L98.99,175.22 L98.40,174.84 L97.81,174.47 L97.21,174.10 L96.62,173.74 L96.01,173.39 L95.40,173.05 L94.79,172.72 L94.17,172.40 L93.55,172.09 L92.92,171.80 L92.28,171.51 L91.64,171.23 L90.99,170.97 L90.35,170.71 L89.69,170.46 L89.04,170.21 L88.38,169.98 L87.72,169.75 L87.06,169.54 L86.39,169.33 L85.72,169.14 L85.05,168.95 L84.37,168.77 L83.70,168.60 L83.02,168.44 L82.34,168.28 L81.65,168.13 L80.97,167.98 L80.29,167.83 L79.60,167.70 L78.91,167.57 L78.23,167.44 L77.54,167.33 L76.85,167.22 L76.15,167.13 L75.46,167.04 L74.77,166.95 L74.07,166.88 L73.38,166.81 L72.68,166.74 L71.98,166.68 L71.29,166.63 L70.59,166.57 L69.89,166.52 L69.19,166.48 L68.49,166.43 L67.80,166.40 L67.10,166.37 L66.40,166.34 L65.70,166.32 L65.00,166.30 L64.30,166.28 L63.60,166.27 L62.90,166.26 L62.20,166.25 L61.50,166.24 L60.80,166.23 L60.10,166.22 L59.40,166.21 L58.70,166.21 L58.00,166.20" fill="none" stroke="#151515" stroke-width="1.45" stroke-linejoin="round"/>
<path d="M60,85.9 H86.2" stroke="#151515" stroke-width="1.6"/>
<path d="M60,99.3 H86.2" stroke="#c8282c" stroke-width="1.5"/>
<text x="89.6" y="89.2" font-size="10.6">1 st</text>
<text x="89.6" y="102.8" font-size="10.6">1000 th</text>
<g fill="none" stroke="#3a3a3a" stroke-width="1.3">
<path d="M394.5,6.5 H674.5 V211.5 H394.5 Z"/>
<path d="M389.6,211.50 H394.5"/>
<path d="M392.0,196.86 H394.5"/>
<path d="M389.6,182.21 H394.5"/>
<path d="M392.0,167.57 H394.5"/>
<path d="M389.6,152.93 H394.5"/>
<path d="M392.0,138.29 H394.5"/>
<path d="M389.6,123.64 H394.5"/>
<path d="M392.0,109.00 H394.5"/>
<path d="M389.6,94.36 H394.5"/>
<path d="M392.0,79.71 H394.5"/>
<path d="M389.6,65.07 H394.5"/>
<path d="M392.0,50.43 H394.5"/>
<path d="M389.6,35.79 H394.5"/>
<path d="M392.0,21.14 H394.5"/>
<path d="M389.6,6.50 H394.5"/>
<path d="M397.50,211.5 V216.4"/>
<path d="M424.90,211.5 V214.0"/>
<path d="M452.30,211.5 V216.4"/>
<path d="M479.70,211.5 V214.0"/>
<path d="M507.10,211.5 V216.4"/>
<path d="M534.50,211.5 V214.0"/>
<path d="M561.90,211.5 V216.4"/>
<path d="M589.30,211.5 V214.0"/>
<path d="M616.70,211.5 V216.4"/>
<path d="M644.10,211.5 V214.0"/>
<path d="M671.50,211.5 V216.4"/>
</g>
<g font-size="11.8" text-anchor="end">
<text x="387.3" y="214.80">50</text>
<text x="387.3" y="185.51">100</text>
<text x="387.3" y="156.23">150</text>
<text x="387.3" y="126.94">200</text>
<text x="387.3" y="97.66">250</text>
<text x="387.3" y="68.37">300</text>
<text x="387.3" y="39.09">350</text>
<text x="387.3" y="9.80">400</text>
</g>
<g font-size="11.8" text-anchor="middle">
<text x="397.50" y="228.3">0</text>
<text x="452.30" y="228.3">200</text>
<text x="507.10" y="228.3">400</text>
<text x="561.90" y="228.3">600</text>
<text x="616.70" y="228.3">800</text>
<text x="671.50" y="228.3">1000</text>
</g>
<text x="534" y="249" font-size="13" text-anchor="middle">Cycles</text>
<text transform="translate(359.2,117.3) rotate(-90)" font-size="12.9" text-anchor="middle">Capacitance (F/g)</text>
<text x="414.9" y="22.9" font-size="19.5" font-weight="bold" style="font-family:'Liberation Serif',serif;stroke-width:0.1px" fill="#111">(b)</text>
<path d="M397.50,19.30 L411.20,35.50 L424.90,42.70 L438.60,54.80 L452.30,59.80 L466.00,64.60 L479.70,65.20 L493.40,65.60 L507.10,66.50 L520.80,67.20 L534.50,67.90 L548.20,68.50 L561.90,69.10 L575.60,69.60 L589.30,70.10 L603.00,71.00 L616.70,71.40 L630.40,72.00 L644.10,72.60 L657.80,73.30 L671.50,73.90" fill="none" stroke="#999" stroke-width="0.9"/>
<path d="M397.50,86.70 L411.20,91.30 L424.90,94.60 L438.60,101.10 L452.30,106.50 L466.00,111.40 L479.70,113.50 L493.40,114.20 L507.10,115.10 L520.80,115.80 L534.50,116.50 L548.20,116.50 L561.90,117.30 L575.60,118.20 L589.30,118.60 L603.00,119.40 L616.70,120.00 L630.40,122.50 L644.10,123.80 L657.80,124.60 L671.50,126.10" fill="none" stroke="#e07070" stroke-width="0.8"/>
<g fill="#000">
<rect x="395.20" y="17.00" width="4.6" height="4.6"/>
<rect x="408.90" y="33.20" width="4.6" height="4.6"/>
<rect x="422.60" y="40.40" width="4.6" height="4.6"/>
<rect x="436.30" y="52.50" width="4.6" height="4.6"/>
<rect x="450.00" y="57.50" width="4.6" height="4.6"/>
<rect x="463.70" y="62.30" width="4.6" height="4.6"/>
<rect x="477.40" y="62.90" width="4.6" height="4.6"/>
<rect x="491.10" y="63.30" width="4.6" height="4.6"/>
<rect x="504.80" y="64.20" width="4.6" height="4.6"/>
<rect x="518.50" y="64.90" width="4.6" height="4.6"/>
<rect x="532.20" y="65.60" width="4.6" height="4.6"/>
<rect x="545.90" y="66.20" width="4.6" height="4.6"/>
<rect x="559.60" y="66.80" width="4.6" height="4.6"/>
<rect x="573.30" y="67.30" width="4.6" height="4.6"/>
<rect x="587.00" y="67.80" width="4.6" height="4.6"/>
<rect x="600.70" y="68.70" width="4.6" height="4.6"/>
<rect x="614.40" y="69.10" width="4.6" height="4.6"/>
<rect x="628.10" y="69.70" width="4.6" height="4.6"/>
<rect x="641.80" y="70.30" width="4.6" height="4.6"/>
<rect x="655.50" y="71.00" width="4.6" height="4.6"/>
<rect x="669.20" y="71.60" width="4.6" height="4.6"/>
</g>
<g fill="#e8000a">
<circle cx="397.50" cy="86.70" r="2.5"/>
<circle cx="411.20" cy="91.30" r="2.5"/>
<circle cx="424.90" cy="94.60" r="2.5"/>
<circle cx="438.60" cy="101.10" r="2.5"/>
<circle cx="452.30" cy="106.50" r="2.5"/>
<circle cx="466.00" cy="111.40" r="2.5"/>
<circle cx="479.70" cy="113.50" r="2.5"/>
<circle cx="493.40" cy="114.20" r="2.5"/>
<circle cx="507.10" cy="115.10" r="2.5"/>
<circle cx="520.80" cy="115.80" r="2.5"/>
<circle cx="534.50" cy="116.50" r="2.5"/>
<circle cx="548.20" cy="116.50" r="2.5"/>
<circle cx="561.90" cy="117.30" r="2.5"/>
<circle cx="575.60" cy="118.20" r="2.5"/>
<circle cx="589.30" cy="118.60" r="2.5"/>
<circle cx="603.00" cy="119.40" r="2.5"/>
<circle cx="616.70" cy="120.00" r="2.5"/>
<circle cx="630.40" cy="122.50" r="2.5"/>
<circle cx="644.10" cy="123.80" r="2.5"/>
<circle cx="657.80" cy="124.60" r="2.5"/>
<circle cx="671.50" cy="126.10" r="2.5"/>
</g>
<path d="M419,166.9 H443.4" stroke="#999" stroke-width="0.9"/>
<rect x="429" y="164.6" width="4.6" height="4.6" fill="#000"/>
<path d="M419,180.6 H443.4" stroke="#e07070" stroke-width="0.8"/>
<circle cx="431.3" cy="180.6" r="2.5" fill="#e8000a"/>
<text x="446.8" y="170.6" font-size="10.9">S120</text>
<text x="446.8" y="184.3" font-size="10.9">S150</text>
</svg>
</body></html>
